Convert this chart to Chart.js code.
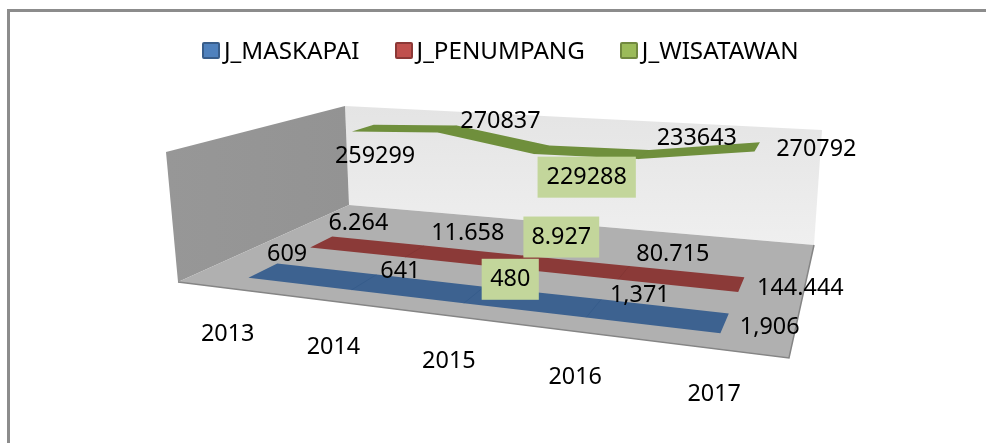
<!DOCTYPE html>
<html>
<head>
<meta charset="utf-8">
<title>J_MASKAPAI J_PENUMPANG J_WISATAWAN</title>
<script src="https://cdn.jsdelivr.net/npm/chart.js@4"></script>
<style>
    html, body { margin: 0; padding: 0; background: #fff; overflow: hidden; }
    #wrap { position: relative; width: 986px; height: 443px; }
    #wrap canvas { position: absolute; left: 0; top: 0; }
    #frame { position: absolute; left: 7px; top: 9px; right: 0; bottom: 0; border-left: 3px solid #8c8c8c; border-top: 3px solid #8c8c8c; }
    #legend { position: absolute; left: 202px; top: 33px; display: flex; font: 24.2px "Noto Sans", sans-serif; color: #000; line-height: 34px; }
    #legend .item { display: flex; align-items: center; margin-right: 35px; }
    #legend .box { width: 14px; height: 13px; border: 2px solid; border-radius: 2px; margin-right: 4px; }
</style>
</head>
<body>
<div id="wrap">
    <div id="frame"></div>
    <canvas id="chart" width="986" height="443"></canvas>
    <div id="legend"></div>
</div>
<script>
const years = ['2013', '2014', '2015', '2016', '2017'];
const maskapai = [609, 641, 480, 1371, 1906];
const penumpang = [6.264, 11.658, 8.927, 80.715, 144.444];
const wisatawan = [259299, 270837, 229288, 233643, 270792];

const maskapaiLabels = ['609', '641', '480', '1,371', '1,906'];
const penumpangLabels = ['6.264', '11.658', '8.927', '80.715', '144.444'];
const wisatawanLabels = ['259299', '270837', '229288', '233643', '270792'];

// box corners on screen, the 3D look is only these two planes
const floorQuad = [[178, 282], [789, 358], [814, 245], [349, 205]];
const topQuad = [[166, 152], [805, 207], [822, 130], [345, 106]];

function quadMap(q) {
    const [[x0, y0], [x1, y1], [x2, y2], [x3, y3]] = q;
    const dx1 = x1 - x2, dx2 = x3 - x2, sx = x0 - x1 + x2 - x3;
    const dy1 = y1 - y2, dy2 = y3 - y2, sy = y0 - y1 + y2 - y3;
    const den = dx1 * dy2 - dx2 * dy1;
    const g = (sx * dy2 - dx2 * sy) / den;
    const h = (dx1 * sy - sx * dy1) / den;
    const a = x1 - x0 + g * x1, b = x3 - x0 + h * x3;
    const d = y1 - y0 + g * y1, e = y3 - y0 + h * y3;
    return (u, v) => {
        const w = g * u + h * v + 1;
        return [(a * u + b * v + x0) / w, (d * u + e * v + y0) / w];
    };
}
const floorAt = quadMap(floorQuad);
const topAt = quadMap(topQuad);

function project(u, depth, height) {
    const f = floorAt(u, depth);
    const t = topAt(u, depth);
    return [f[0] + (t[0] - f[0]) * height, f[1] + (t[1] - f[1]) * height];
}

function polygon(ctx, pts, fill) {
    ctx.beginPath();
    pts.forEach((p, i) => i ? ctx.lineTo(p[0], p[1]) : ctx.moveTo(p[0], p[1]));
    ctx.closePath();
    ctx.fillStyle = fill;
    ctx.fill();
}

function pointPos(chart, el) {
    const area = chart.chartArea;
    return {
        u: (el.x - area.left) / area.width,
        h: (area.bottom - el.y) / area.height
    };
}

const roomPlugin = {
    id: 'room',
    beforeDatasetsDraw(chart) {
        const ctx = chart.ctx;
        const fl = floorQuad, tp = topQuad;

        let grad = ctx.createLinearGradient(0, 106, 0, 245);
        grad.addColorStop(0, '#e4e4e4');
        grad.addColorStop(1, '#efefef');
        polygon(ctx, [tp[3], tp[2], fl[2], fl[3]], grad);

        grad = ctx.createLinearGradient(166, 0, 349, 0);
        grad.addColorStop(0, '#979797');
        grad.addColorStop(1, '#939393');
        polygon(ctx, [tp[0], tp[3], fl[3], fl[0]], grad);

        polygon(ctx, fl, '#b0b0b0');

        ctx.strokeStyle = '#858585';
        ctx.lineWidth = 1.5;
        ctx.beginPath();
        ctx.moveTo(fl[0][0], fl[0][1]);
        ctx.lineTo(fl[1][0], fl[1][1]);
        ctx.lineTo(fl[2][0], fl[2][1]);
        ctx.stroke();
    }
};

const ribbonPlugin = {
    id: 'ribbon',
    beforeDatasetDraw(chart, args) {
        const ctx = chart.ctx;
        const ds = chart.data.datasets[args.index];
        const [d0, d1] = ds.depth;
        const pos = args.meta.data.map(el => pointPos(chart, el));
        const back = pos.map(p => project(p.u, d1, p.h));
        const front = pos.map(p => project(p.u, d0, p.h));
        polygon(ctx, back.concat(front.slice().reverse()), ds.ribbonColor);

        // faint seam where the ribbon bends
        ctx.strokeStyle = ds.seamColor;
        ctx.lineWidth = 1;
        for (let i = 1; i < pos.length - 1; i++) {
            ctx.beginPath();
            ctx.moveTo(back[i][0], back[i][1]);
            ctx.lineTo(front[i][0], front[i][1]);
            ctx.stroke();
        }
        return false;
    }
};

const textPlugin = {
    id: 'texts',
    afterDatasetsDraw(chart) {
        const ctx = chart.ctx;
        ctx.save();
        ctx.font = '23.4px "Noto Sans", sans-serif';
        ctx.textAlign = 'center';
        ctx.textBaseline = 'middle';
        ctx.fillStyle = '#000';

        // category ticks sit under the front floor edge
        const xScale = chart.scales.x;
        xScale.getLabels().forEach((label, i) => {
            const u = (xScale.getPixelForValue(i) - chart.chartArea.left) / chart.chartArea.width;
            const p = project(u, 0, 0);
            ctx.fillText(label, p[0], p[1] + 46);
        });

        chart.data.datasets.forEach((ds, di) => {
            const meta = chart.getDatasetMeta(di);
            meta.data.forEach((el, i) => {
                const pos = pointPos(chart, el);
                const p = project(pos.u, (ds.depth[0] + ds.depth[1]) / 2, pos.h);
                const x = p[0] + ds.labelNudge[i][0];
                const y = p[1] + ds.labelNudge[i][1];
                const text = ds.valueLabels[i];
                if (i === ds.selectedIndex) {
                    const w = ctx.measureText(text).width + ds.labelPad * 2;
                    ctx.fillStyle = '#c3d69b';
                    ctx.fillRect(x - w / 2, y - 21, w, 41);
                    ctx.fillStyle = '#000';
                }
                ctx.fillText(text, x, y);
            });
        });
        ctx.restore();
    }
};

const chart = new Chart(document.getElementById('chart').getContext('2d'), {
    type: 'line',
    data: {
        labels: years,
        datasets: [
            {
                label: 'J_MASKAPAI',
                data: maskapai,
                valueLabels: maskapaiLabels,
                backgroundColor: '#4f81bd',
                borderColor: '#385d8a',
                ribbonColor: '#3d6290',
                seamColor: 'rgba(40,80,130,0.35)',
                depth: [0.10, 0.25],
                selectedIndex: 2,
                labelPad: 8.5,
                labelNudge: [[24, -16], [36, -11], [36, -15], [46, -13], [45, 4]]
            },
            {
                label: 'J_PENUMPANG',
                data: penumpang,
                valueLabels: penumpangLabels,
                backgroundColor: '#c0504d',
                borderColor: '#8c3836',
                ribbonColor: '#8b3a38',
                seamColor: 'rgba(115,45,45,0.35)',
                depth: [0.44, 0.58],
                selectedIndex: 2,
                labelPad: 8,
                labelNudge: [[37, -19], [53, -18], [46, -24], [49, -18], [59, 4]]
            },
            {
                label: 'J_WISATAWAN',
                data: wisatawan,
                valueLabels: wisatawanLabels,
                backgroundColor: '#9bbb59',
                borderColor: '#71893f',
                ribbonColor: '#6f8f3c',
                seamColor: 'rgba(100,130,55,0.2)',
                depth: [0.76, 0.92],
                selectedIndex: 2,
                labelPad: 9,
                labelNudge: [[12, 28], [53, -8], [45, 28], [53, -16], [59, 3]]
            }
        ]
    },
    options: {
        responsive: false,
        animation: false,
        elements: { point: { radius: 0 }, line: { tension: 0 } },
        layout: { padding: 0 },
        plugins: {
            legend: { display: false },
            tooltip: { enabled: false }
        },
        scales: {
            x: { display: false, offset: true },
            y: { display: false, min: 0, max: 300000 }
        }
    },
    plugins: [roomPlugin, ribbonPlugin, textPlugin]
});

// html legend, the canvas one can't get the box this close to the text
const legendEl = document.getElementById('legend');
chart.data.datasets.forEach(ds => {
    const item = document.createElement('div');
    item.className = 'item';
    const box = document.createElement('span');
    box.className = 'box';
    box.style.background = ds.backgroundColor;
    box.style.borderColor = ds.borderColor;
    item.appendChild(box);
    item.appendChild(document.createTextNode(ds.label));
    legendEl.appendChild(item);
});
</script>
</body>
</html>
